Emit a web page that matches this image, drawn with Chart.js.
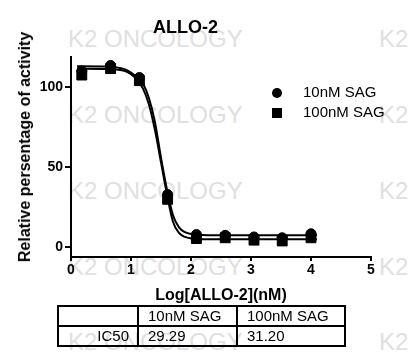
<!DOCTYPE html>
<html>
<head>
<meta charset="utf-8">
<script src="https://cdn.jsdelivr.net/npm/chart.js@4"></script>
<style>
body { margin: 0; background: #fff; font-family: "Liberation Sans", Arial, sans-serif; }
#wrap { position: relative; width: 417px; height: 358px; overflow: hidden; }
.wm { position: absolute; font-size: 24px; line-height: 24px; color: #e0e0e0; white-space: nowrap; }
#chart { position: absolute; left: 0; top: 0; }
#ytitle { position: absolute; left: 25px; top: 147px; transform: translate(-50%, -50%) rotate(-90deg);
  font-weight: bold; font-size: 16px; white-space: nowrap; color: #000; }
#legend { position: absolute; left: 272px; top: 82px; font-size: 15px; color: #000; }
#legend div { height: 20px; line-height: 20px; white-space: nowrap; }
#legend span.sym { display: inline-block; width: 10px; height: 10px; background: #000; margin-right: 21px; vertical-align: -1px; }
#legend span.circ { border-radius: 50%; }
#tbl { position: absolute; left: 57px; top: 305px; border-collapse: collapse; table-layout: fixed; width: 287px; font-size: 15px; color: #000; }
#tbl td { border: 2px solid #000; padding: 0 0 0 9px; height: 18px; line-height: 18px; white-space: nowrap; }
#tbl td.lab { text-align: right; padding: 0 8px 0 0; }
</style>
</head>
<body>
<div id="wrap">
  <div class="wm" style="left:68px;top:27px">K2 ONCOLOGY</div><div class="wm" style="left:379px;top:27px">K2</div>
  <div class="wm" style="left:68px;top:103px">K2 ONCOLOGY</div><div class="wm" style="left:379px;top:103px">K2</div>
  <div class="wm" style="left:68px;top:179px">K2 ONCOLOGY</div><div class="wm" style="left:379px;top:179px">K2</div>
  <div class="wm" style="left:68px;top:255px">K2 ONCOLOGY</div><div class="wm" style="left:379px;top:255px">K2</div>
  <div class="wm" style="left:68px;top:330px">K2 ONCOLOGY</div><div class="wm" style="left:379px;top:330px">K2</div>
  <canvas id="chart" width="417" height="358"></canvas>
  <div id="ytitle">Relative persentage of activity</div>
  <div id="legend"></div>
  <table id="tbl"><colgroup><col style="width:80px"><col style="width:99px"><col style="width:108px"></colgroup><tbody id="tbody"></tbody></table>
</div>
<script>
var seriesNames = ['10nM SAG', '100nM SAG'];
var ic50 = ['29.29', '31.20'];

// log concentration of each measured point
var logConc = [0.18, 0.66, 1.14, 1.61, 2.09, 2.57, 3.05, 3.52, 4.0];
var sag10 = [110, 113.5, 106, 33, 8, 7.5, 6.5, 6, 8.5];
var sag100 = [107.5, 111.5, 104, 30, 5.5, 6, 4.5, 4, 6];

// fitted curves
var fitX = [0.1, 0.6, 0.9, 1.0, 1.1, 1.2, 1.3, 1.4, 1.5, 1.6, 1.7, 1.8, 1.9, 2.0, 2.2, 2.6, 3.0, 4.1];
var fit10 = [113, 112.8, 111, 109, 106, 102, 93, 78, 56, 36, 20, 12.5, 9.5, 8.3, 7.7, 7.5, 7.5, 7.5];
var fit100 = [111.5, 111.3, 110, 108, 104.5, 99, 89, 73, 53, 33, 16, 9, 6.5, 5.6, 5.1, 5, 5, 5];

var xTicks = [0, 1, 2, 3, 4, 5];
var yTicks = [0, 50, 100];

function pts(xs, ys) {
  return xs.map(function (x, i) { return { x: x, y: ys[i] }; });
}

// legend + table
var legend = document.getElementById('legend');
legend.innerHTML =
  '<div><span class="sym circ"></span>' + seriesNames[0] + '</div>' +
  '<div><span class="sym"></span>' + seriesNames[1] + '</div>';
document.getElementById('tbody').innerHTML =
  '<tr><td></td><td>' + seriesNames[0] + '</td><td>' + seriesNames[1] + '</td></tr>' +
  '<tr><td class="lab">IC50</td><td>' + ic50[0] + '</td><td>' + ic50[1] + '</td></tr>';

var ctx = document.getElementById('chart').getContext('2d');
var myChart = new Chart(ctx, {
  type: 'scatter',
  data: {
    datasets: [{
      label: seriesNames[0] + ' fit',
      data: pts(fitX, fit10),
      showLine: true,
      borderColor: '#000',
      borderWidth: 2,
      pointRadius: 0,
      cubicInterpolationMode: 'monotone'
    }, {
      label: seriesNames[1] + ' fit',
      data: pts(fitX, fit100),
      showLine: true,
      borderColor: '#000',
      borderWidth: 2,
      pointRadius: 0,
      cubicInterpolationMode: 'monotone'
    }, {
      label: seriesNames[0],
      data: pts(logConc, sag10),
      pointStyle: 'circle',
      pointRadius: 5,
      backgroundColor: '#000',
      borderColor: '#000'
    }, {
      label: seriesNames[1],
      data: pts(logConc, sag100),
      pointStyle: 'rect',
      pointRadius: 7,
      backgroundColor: '#000',
      borderColor: '#000'
    }]
  },
  options: {
    responsive: false,
    animation: false,
    layout: { padding: { left: 0, top: 0, right: 46, bottom: 53 } },
    plugins: {
      legend: { display: false },
      tooltip: { enabled: false },
      title: {
        display: true,
        text: 'ALLO-2',
        color: '#000',
        font: { size: 18, weight: 'bold', family: 'Liberation Sans' },
        padding: { top: 17, bottom: 18 }
      }
    },
    scales: {
      x: {
        type: 'linear',
        min: 0,
        max: 5,
        afterBuildTicks: function (s) { s.ticks = xTicks.map(function (v) { return { value: v }; }); },
        afterFit: function (s) { s.height = 48; },
        grid: { drawOnChartArea: false, color: '#000', lineWidth: 2, tickLength: 4 },
        border: { color: '#000', width: 2 },
        ticks: { color: '#000', padding: 1, font: { size: 14, weight: 'bold', family: 'Liberation Sans' } },
        title: {
          display: true,
          text: 'Log[ALLO-2](nM)',
          color: '#000',
          padding: { top: 0, bottom: 0 },
          font: { size: 16, weight: 'bold', family: 'Liberation Sans' }
        }
      },
      y: {
        min: -6,
        max: 119,
        afterBuildTicks: function (s) { s.ticks = yTicks.map(function (v) { return { value: v }; }); },
        afterFit: function (s) { s.width = 71; },
        grid: { drawOnChartArea: false, color: '#000', lineWidth: 2, tickLength: 6 },
        border: { color: '#000', width: 2 },
        ticks: { color: '#000', padding: 2, font: { size: 14, weight: 'bold', family: 'Liberation Sans' } }
      }
    }
  }
});
</script>
</body>
</html>
